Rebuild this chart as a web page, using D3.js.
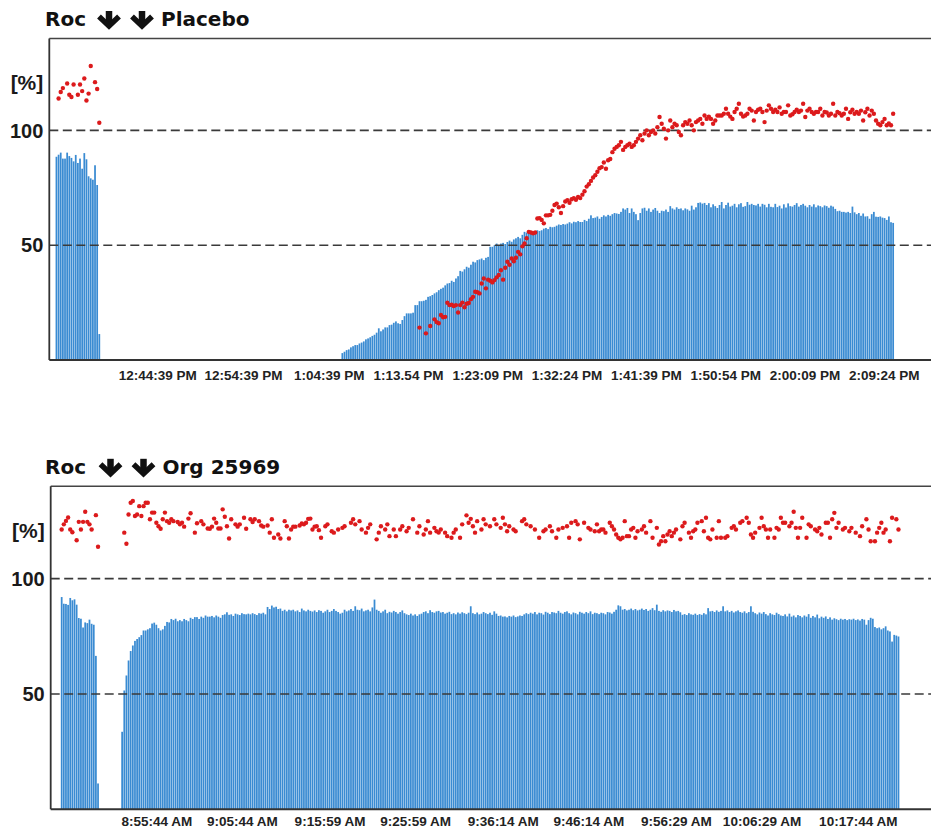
<!DOCTYPE html>
<html>
<head>
<meta charset="utf-8">
<script src="https://cdn.jsdelivr.net/npm/d3@7/dist/d3.min.js"></script>
<style>
  body { margin: 0; background: #fff; }
  text { font-family: "Liberation Sans", Arial, sans-serif; font-weight: bold; }
</style>
</head>
<body>
<script>
// ---- data (T1 bars = blue, TOF ratio dots = red), one sample every 15 s ----

var topDrug = "Placebo";
var topTickLabels = ["12:44:39 PM", "12:54:39 PM", "1:04:39 PM", "1:13.54 PM", "1:23:09 PM",
  "1:32:24 PM", "1:41:39 PM", "1:50:54 PM", "2:00:09 PM", "2:09:24 PM"];

var topT1aStart = "12:32:50 PM";
var topT1a = [88.5, 89.4, 90.3, 87.7, 87.7, 90.3, 88.8, 88, 86.5, 89.3,
  85.8, 87.7, 83.3, 90.1, 87.4, 80, 79.1, 78.5, 84.8, 76.2, 11.3];
var topTofA = [null, 113.9, 116.7, 118.4, null, 120.4, 115.5, 114.5, 120, null,
  115.5, 120, 117.1, 122.6, 113, 116, 128, null, 121, 118, 103.3];

var topT1bStart = "1:06:11 PM";
var topT1b = [3, 3.6, 4.3, 4.6, 5.5, 6, 6.5, 6.5, 7.2, 7.6,
  8.1, 9, 9.4, 9.9, 10.5, 11, 11.9, 13.8, 12.5, 13.3,
  14.2, 14.2, 15.2, 15.4, 16.2, 16.8, 16, 15.7, 17.4, 19.1,
  20.3, 20.3, 20.3, 20.6, 23.9, 23.9, 25.6, 25.6, 25.8, 26.2,
  27.5, 27.8, 28.3, 29, 29.5, 30.4, 31, 31.5, 32.5, 33.3,
  33.5, 34.5, 34, 35.5, 36.5, 38.8, 38.5, 39.5, 40.6, 40.2,
  41.5, 42.8, 42.5, 43.5, 43.8, 44.2, 43.5, 44.5, 44.9, 49.3,
  49.3, 50, 50.7, 49.8, 50.7, 51, 50.5, 51.4, 52, 51.5,
  52.5, 53, 53.6, 53, 54.5, 55.8, 55.5, 56, 55.2, 55,
  55, 56.5, 56.2, 56.5, 57.2, 57.5, 57, 58, 57.8, 58,
  58.5, 59, 58.8, 59.2, 59, 59.4, 60, 59.5, 60.2, 60,
  60.5, 60.1, 60.1, 61, 60.5, 61.5, 63, 61.8, 62, 62.5,
  61.5, 62.3, 63, 62.5, 63.2, 62.8, 63.5, 64, 63.8, 63.6,
  64.5, 66, 65.5, 66.2, 64, 66, 64.5, 63.5, 60.9, 64,
  66, 66.3, 65, 66, 64.5, 65.5, 66.2, 65, 64, 65,
  64.8, 65.5, 64.5, 67, 66, 65.5, 66.5, 65.8, 66, 65.2,
  66, 65.6, 65, 67.2, 65.5, 66.5, 68.4, 68.6, 68.1, 68.4,
  67.5, 68.3, 66.5, 67.8, 67, 66.2, 67.5, 68.8, 66, 67.5,
  68.5, 66.8, 67.2, 68, 66.5, 67.8, 68.3, 66.7, 67, 68.8,
  67.6, 68, 67.5, 67.3, 68, 66.8, 68, 67.6, 66.5, 68,
  66.7, 66.5, 68, 66.6, 67.2, 66, 67.8, 66.4, 68.2, 67,
  66.8, 67.5, 68.3, 66.8, 67.5, 68, 67.2, 66.5, 67.5, 66.8,
  67.8, 66.5, 67.3, 67, 66.5, 67.3, 67, 66.3, 67.2, 66.8,
  65.8, 64.8, 65, 64.5, 64.5, 64.2, 64.5, 64, 66.8, 64.3,
  63.5, 64, 62.8, 63.8, 62.5, 62.6, 61.5, 63.5, 64.5, 62.4,
  62.3, 62.5, 62, 61.8, 61, 62.5, 60, 59.7];

var topTofBStart = "1:15:11 PM";
var topTofB = [14.1, null, null, 11.6, null, 14.8, null, 17.7, 16.5, 16,
  19.6, 18.6, 18.8, 24.9, 23.9, 24.1, 23.5, 23.9, 20.7, 23.9,
  25, 23, 24.5, 24.8, 26.5, 27.5, 29.7, 29.5, 29, 33.3,
  35.5, 31.2, 35, 34.5, 33.8, 34.8, 36, 37, 39.1, 35,
  40.2, 42.8, 41.5, 44.2, 43, 44.5, 47.1, 46, 49.5, 50.7,
  53, 55.8, 55.5, 55.2, 55.5, 61.6, 61.8, 61, 59.5, 63,
  63, 63.2, 65, 67.5, 68.1, 66.5, 64, 67, 69, 69.6,
  68.5, 70, 70.5, 69.8, 71, 70.5, 72, 73.5, 75.5, 76.5,
  78, 79.5, 80.5, 82, 83.5, 84, 86, 83.3, 87, 87.5,
  90.5, 92, 92.8, 93.5, 95, 91.5, 92.8, 93.5, 94.2, 92.8,
  93.5, 95, 96.4, 97.9, 95.7, 98.6, 100, 97.9, 99.3, 100,
  98.6, 101.4, 105.8, 102.9, 100.7, 96.4, 100, 104.3, 101.4, 102.9,
  102.2, 99.3, 97.9, 102.2, 103.6, 102.9, 104.3, 102.2, 100, 103.6,
  104.3, 105, 102.9, 106.5, 105, 106, 105, 102.9, 104.3, 106.5,
  106.5, 106.5, 107.2, 109.4, 107.2, 106, 105, 108, 109.4, 111.6,
  107.2, 106, 106.5, 107.2, 109.4, 108.6, 104.3, 108, 109, 109.4,
  108, 103.6, 108.6, 110.9, 109.4, 108, 109, 108, 110, 107.2,
  108, 108, 110.9, 106.5, 107, 108, 109, 108, 108.6, 111.6,
  105.8, 108.6, 109.4, 108, 107.2, 108, 108, 109.4, 106.5, 108,
  107.8, 106.5, 107.2, 111.6, 106.5, 108, 107.5, 106.5, 107.2, 109.4,
  105, 107.9, 109, 107.2, 108, 107.2, 108.6, 104.3, 107.9, 109.4,
  106.5, 108.6, 107.2, 104.3, 102.9, 102.2, 103.6, 105, 102.2, 103,
  102.2, 107.2];

var botDrug = "Org 25969";
var botTickLabels = ["8:55:44 AM", "9:05:44 AM", "9:15:59 AM", "9:25:59 AM", "9:36:14 AM",
  "9:46:14 AM", "9:56:29 AM", "10:06:29 AM", "10:17:44 AM"];

var botT1aStart = "8:44:37 AM";
var botT1a = [92, 89.1, 89, 88.6, 91.6, 90.6, 91, 88.7, 82.9, 82.6,
  78.8, 81, 80.7, 82.2, 80.4, 80, 66.5, 11.2];
var botTofA = [121.3, 123.5, 125, 126.5, 121.3, 120.1, null, 116.6, 124.6, 121.3,
  124.6, 129, 124.6, 123.5, 121.3, null, 127.5, 113.8];

var botT1bStart = "8:51:41 AM";
var botT1b = [33.6, 51.5, 58, 64.5, 68.6, 71, 73, 73.8, 74.6, 75.5,
  77.5, 77.5, 78, 78.5, 80.5, 80.9, 80, 78.5, 77.5, 78,
  79.5, 81.2, 81, 82.5, 82, 82.6, 81.5, 82, 81.5, 82.5,
  82, 81.5, 83, 82.5, 83.3, 83.3, 82.5, 83.5, 83, 84,
  83.5, 83.5, 83.8, 83.2, 84, 83.5, 83, 84.2, 84.5, 85.4,
  84.3, 84.5, 83.8, 84.8, 84.5, 84.2, 85, 84.6, 84.5, 84.8,
  84.5, 85, 84.6, 84.2, 85, 84.8, 85.2, 84.5, 87.7, 86.8,
  88.3, 87.5, 87.8, 86.8, 87, 86, 86.5, 85.8, 86.5, 86.2,
  86.5, 85.8, 86.2, 85.5, 87, 86.2, 85.8, 86.5, 86, 85.7,
  86.2, 85.5, 86.3, 86, 85.2, 85.8, 86.5, 85.5, 86, 86.8,
  86, 85.5, 84.8, 85.2, 86.5, 85.8, 86.2, 86.8, 86, 88,
  86.5, 86.3, 87, 85.8, 86.2, 86.5, 85.8, 87.5, 90.9, 86.5,
  86, 85.2, 85.8, 86.5, 85, 85.6, 85.3, 86, 85.5, 84.8,
  85.5, 86.2, 85, 84.5, 84.2, 84.8, 84, 84.5, 83.8, 84.5,
  84.8, 85.5, 85.8, 85, 86.3, 85.5, 85.2, 85.8, 86, 85.3,
  85.5, 84.8, 85.2, 85.6, 84.6, 85, 84.5, 85.3, 84.8, 85.4,
  85, 84.6, 85.2, 88, 85, 84.6, 85.3, 84.5, 84.8, 85.5,
  85, 84.6, 85.2, 84.3, 85.8, 84.8, 83.8, 84, 83.5, 83.6,
  83.2, 83.8, 83.5, 84, 83.3, 83.6, 84, 83.8, 84.5, 85,
  84.6, 85.2, 84.8, 85.5, 84.5, 85.2, 85, 84.4, 85.6, 85.2,
  84.6, 85.5, 85.3, 85, 86, 85.2, 84.8, 85.5, 85.8, 85,
  84.5, 85.3, 85, 84.5, 85.6, 85.2, 84.8, 85.5, 85, 85.8,
  84.6, 85.2, 85, 84.6, 85.2, 85, 84.5, 85.5, 85.3, 84.8,
  85.6, 86.5, 88.4, 88, 86.5, 86.8, 86.2, 86.5, 87, 86.3,
  86.8, 86.2, 86.5, 87, 86.4, 86.8, 86, 86.5, 87.2, 86.3,
  88.7, 86, 85.6, 86.3, 85.8, 86.2, 86, 85.5, 86.4, 85.8,
  86, 85.4, 84.3, 84.6, 84.2, 85, 84.5, 84.3, 84.8, 84.2,
  84.6, 84.3, 85, 84.5, 87.2, 85.8, 86, 85.5, 86.2, 85.6,
  86, 88, 85.8, 86.2, 85.5, 86, 85.3, 85.8, 86.2, 85.5,
  85.2, 85.8, 85, 85.5, 88, 85.6, 85, 84.5, 85.3, 84.8,
  85.5, 84.6, 84, 85, 84.5, 84.2, 85.2, 84.6, 84, 83.8,
  84.5, 83.6, 84.8, 83.5, 84, 83.2, 84.2, 83.8, 83.2, 84,
  83.5, 84.6, 83, 83.8, 83.2, 84.4, 82.8, 83.5, 83, 83.6,
  82.5, 83.2, 82.2, 82.8, 82.4, 82, 82.6, 82.2, 82.5, 82,
  82.4, 82.2, 82.6, 82, 82.3, 81.8, 82.5, 82.2, 80, 82,
  83, 82.6, 79, 78.5, 78.8, 78, 78.5, 79.3, 77.5, 77.1,
  72.7, 75.6, 75.3, 74.9];
var botTofB = [null, 119.9, 115.1, 127.8, 132.9, 133.6, 127.1, 127.8, 131.4, 127.1,
  131.4, 132.9, 132.9, 125.7, 128.6, 128.6, 124.2, 122.7, 121.6, 125.7,
  128.6, 124.9, 124.2, 125.7, 124.9, null, 124.5, 123.5, 124.2, 122.5,
  null, 126, 128.3, null, 119.9, 124, null, 124.9, 123.5, null,
  121.7, 121.6, 122.5, 126, 124.2, 121.7, 121.7, 130, 126.8, 122.7,
  117.4, 125.7, null, 123.5, 122.5, 123.5, null, 126.4, 121.6, null,
  125.7, 124.5, 125.7, null, 124.9, 123, 122.5, null, 123, 119.9,
  125.7, 117.7, null, 119.1, 117.4, null, 124.9, 122.7, 117.4, 121.3,
  122.5, 122.5, null, 123, 123.9, 123.5, 124.2, 125.9, 126, 121.3,
  122.5, 122.7, 121, 117.7, null, 122.7, 123.5, null, 120.5, 119.9,
  null, 121.3, null, 122, 122.7, null, null, 124.2, 125.7, 123.5,
  null, 124.9, 121.3, null, 119.9, 122, 123.5, null, null, 117,
  119.9, 122.7, null, 121.3, 123.5, 118.4, null, 121.3, 118.4, null,
  121.3, 122.7, null, 120.5, 122, null, 125.7, null, 119.9, 122.7,
  null, 119.1, 121.3, 124.9, 119.9, null, 122, 120.5, 120, 121.3,
  null, 119.9, 118.4, null, 117.7, 119.9, 121.3, null, 117.7, 123.5,
  null, 127.4, 124.2, 125.9, 122.7, 119.9, 124.9, null, 121.3, 125.7,
  123.5, null, 122.7, null, 125.7, 123.5, null, 122, 126.4, 123.5,
  120.5, 122.7, null, 121.3, 120.5, null, null, 124.9, 125.7, 123.5,
  null, 122.7, null, 121.3, null, 117.7, null, 120.5, 121.3, null,
  122.7, 120.5, null, 117.7, 121.3, null, 122, null, 122.7, 117.7,
  124.2, null, 124.9, 123.5, 117, null, 124.2, null, 122, 121.3,
  null, 120.5, 123.5, 120.5, 121.3, 121.3, 119.9, null, 124.2, 122.7,
  121.3, 119.1, 117.7, 117, 117.7, 124.9, 118.4, 118.4, 121.3, 122,
  117.7, 120.5, null, 121.3, 122.7, 119.9, null, 124.9, 117.7, null,
  122, 114.8, 116.2, 118.4, 116.2, 119.1, 120.5, 118.4, 119.9, 121.3,
  null, 117, 122.7, 124.2, null, 119.9, 117.7, 120.5, 121.3, 124.2,
  null, 124.9, 120.5, 126.4, 117.7, 117, 121.3, null, 117.7, 124.9,
  117.7, null, 117.7, 118.4, null, 122, 122.7, 121.3, null, 124.2,
  124.9, null, 126.4, 124.2, 119.1, 117.7, 119.9, null, 122, 126.4,
  122.7, 121.3, 117.7, 121.3, null, 117.7, 122, 121.3, 126.4, 124.2,
  124.2, null, 122.7, 124.2, 129, 122, 117.7, 122, 126.4, null,
  117.7, 123.5, 122.7, null, 121.3, 120.5, 122, 119.1, null, 124.2,
  124.2, 117.7, 125.7, 128.5, 122, 124.2, null, 121.3, 122, null,
  120.5, 122, null, 119.9, null, 118.4, 122.7, null, 125.7, 121.3,
  116.2, null, 116.2, 119.9, 122, 124.2, 119.9, 121.3, null, 116.2,
  126.4, null, 125.7, 121.3];

var refLines = [100, 50];
var yLabels = [100, 50];

// ---- drawing ----
var w = 931, h = 829;
var stepSec = 15;
var parseT = d3.timeParse("%I:%M:%S %p");
function tparse(s) { return parseT(s.replace(".", ":")); }

var svg = d3.select("body").append("svg")
  .attr("width", w)
  .attr("height", h);

function drawChart(o) {
  var g = svg.append("g").attr("transform", "translate(" + o.left + "," + o.top + ")");
  var pw = o.width, ph = o.height;

  var x = d3.scaleTime().domain([tparse(o.domain[0]), tparse(o.domain[1])]).range([0, pw]);
  var y = d3.scaleLinear().domain([0, 140]).range([ph, 0]);
  var barW = 1.75;

  // bars
  o.bars.forEach(function(seg) {
    var t0 = tparse(seg.start);
    g.selectAll("rect.s" + seg.id)
      .data(seg.values)
      .enter()
      .append("rect")
      .attr("class", "s" + seg.id)
      .attr("x", function(d, i) { return x(d3.timeSecond.offset(t0, i * stepSec)) - barW / 2; })
      .attr("y", function(d) { return y(d); })
      .attr("width", barW)
      .attr("height", function(d) { return ph - y(d); })
      .attr("fill", "#3a8bd2");
  });

  // dashed reference lines
  g.selectAll("line.ref")
    .data(refLines)
    .enter()
    .append("line")
    .attr("class", "ref")
    .attr("x1", 0).attr("x2", pw)
    .attr("y1", function(d) { return y(d); })
    .attr("y2", function(d) { return y(d); })
    .attr("stroke", "#3a3a3a")
    .attr("stroke-width", 1.6)
    .attr("stroke-dasharray", "9,4.5");

  // frame: top, left, bottom
  g.append("line").attr("x1", 0).attr("x2", pw).attr("y1", 0).attr("y2", 0)
    .attr("stroke", "#444").attr("stroke-width", 1.6);
  g.append("line").attr("x1", 0).attr("x2", pw).attr("y1", ph).attr("y2", ph)
    .attr("stroke", "#333").attr("stroke-width", 2);
  g.append("line").attr("x1", 0).attr("x2", 0).attr("y1", 0).attr("y2", ph)
    .attr("stroke", "#333").attr("stroke-width", 1.8);

  // dots
  o.dots.forEach(function(seg, k) {
    var t0 = tparse(seg.start);
    var pts = seg.values.map(function(v, i) { return { t: d3.timeSecond.offset(t0, i * stepSec), v: v }; })
      .filter(function(d) { return d.v != null; });
    g.selectAll("circle.d" + k)
      .data(pts)
      .enter()
      .append("circle")
      .attr("class", "d" + k)
      .attr("cx", function(d) { return x(d.t); })
      .attr("cy", function(d) { return y(d.v); })
      .attr("r", 2.2)
      .attr("fill", "#dc1a1c");
  });

  // y labels
  g.selectAll("text.yl")
    .data(yLabels)
    .enter()
    .append("text")
    .attr("class", "yl")
    .attr("x", -6)
    .attr("y", function(d) { return y(d); })
    .attr("dy", "0.36em")
    .attr("text-anchor", "end")
    .attr("font-size", 20)
    .attr("fill", "#1a1a1a")
    .text(function(d) { return d; });
  g.append("text")
    .attr("x", -6)
    .attr("y", 51.5)
    .attr("text-anchor", "end")
    .attr("font-size", 21)
    .attr("fill", "#1a1a1a")
    .text("[%]");

  // x tick labels
  g.selectAll("text.xl")
    .data(o.ticks)
    .enter()
    .append("text")
    .attr("class", "xl")
    .attr("x", function(d) { return x(tparse(d)); })
    .attr("y", ph + o.tickGap)
    .attr("text-anchor", "middle")
    .attr("font-size", 13.5)
    .attr("fill", "#222")
    .text(function(d) { return d; });

  // title: Roc, two down arrows, drug
  var title = svg.append("g").attr("transform", "translate(0," + (o.top - 12.5) + ")");
  title.append("text").attr("x", 45).attr("y", 0)
    .style("font-family", "'DejaVu Sans', sans-serif")
    .attr("font-size", 20).attr("fill", "#111").text("Roc");
  [o.arrowX, o.arrowX + 33].forEach(function(cx) {
    title.append("path")
      .attr("d", "M" + cx + ",-15 L" + cx + ",-1")
      .attr("stroke", "#111").attr("stroke-width", 6.5).attr("fill", "none");
    title.append("path")
      .attr("d", "M" + (cx - 10) + ",-9.5 L" + cx + ",0 L" + (cx + 10) + ",-9.5")
      .attr("stroke", "#111").attr("stroke-width", 5.5).attr("fill", "none")
      .attr("stroke-linejoin", "miter");
  });
  title.append("text").attr("x", o.arrowX + 52).attr("y", 0)
    .style("font-family", "'DejaVu Sans', sans-serif")
    .attr("font-size", 20).attr("fill", "#111").text(o.drug);
}

drawChart({
  left: 49.3, top: 38.5, width: 883, height: 321.5,
  domain: ["12:32:00 PM", "2:15:00 PM"],
  bars: [{ id: "a", start: topT1aStart, values: topT1a }, { id: "b", start: topT1bStart, values: topT1b }],
  dots: [{ start: topT1aStart, values: topTofA }, { start: topTofBStart, values: topTofB }],
  ticks: topTickLabels,
  tickGap: 20,
  drug: topDrug,
  arrowX: 109
});

drawChart({
  left: 50.7, top: 486.3, width: 884, height: 323,
  domain: ["8:43:20 AM", "10:26:40 AM"],
  bars: [{ id: "a", start: botT1aStart, values: botT1a }, { id: "b", start: botT1bStart, values: botT1b }],
  dots: [{ start: botT1aStart, values: botTofA }, { start: botT1bStart, values: botTofB }],
  ticks: botTickLabels,
  tickGap: 17,
  drug: botDrug,
  arrowX: 110.5
});
</script>
</body>
</html>
